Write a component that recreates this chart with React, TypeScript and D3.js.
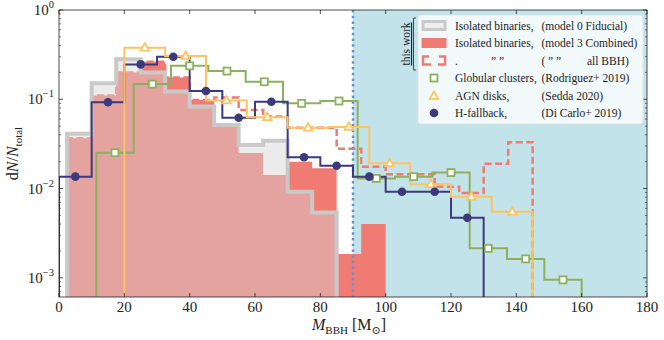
import * as d3 from 'd3';

// isolated binaries, bins of 7.5 Msun starting at 2.5
const isoBinStart = 2.5;
const isoBinWidth = 7.5;
const model0Fiducial = [0.041, 0.151, 0.28, 0.199, 0.122, 0.083, 0.0515, 0.0308, 0.0344, 0.0092, 0.0054];
const model3Combined = [0.0366, 0.11, 0.199, 0.264, 0.175, 0.098, 0.049, 0.025, 0.0142, 0.02, 0.0169, 0.00185, 0.004];
const model3AllBBH = [0.0366, 0.11, 0.199, 0.264, 0.175, 0.098, 0.105, 0.076, 0.064, 0.048, 0.048, 0.028, 0.0176, 0.0145, 0.0145, 0.0105, 0.0089, 0.019, 0.033];

// globular clusters (Rodriguez+ 2019), 14 bins over 0-160, first bin empty
const gcBinCount = 14;
const gcMax = 160;
const globularClusters = [0, 0.0252, 0.148, 0.237, 0.207, 0.157, 0.09, 0.0957, 0.013, 0.0136, 0.0151, 0.00214, 0.00163, 0.00095];

// AGN disks (Sedda 2020), bins of 12.5 from 20
const agnBinStart = 20;
const agnBinWidth = 12.5;
const agnDisks = [0.378, 0.305, 0.097, 0.063, 0.048, 0.049, 0.0192, 0.0112, 0.0081, 0.0055];

// H-fallback (Di Carlo+ 2019), bins of 10 from 0
const hfBinStart = 0;
const hfBinWidth = 10;
const hFallback = [0.0136, 0.0925, 0.246, 0.3, 0.124, 0.062, 0.094, 0.0224, 0.018, 0.0136, 0.0092, 0.0092, 0.0047];

const xTicks = [0, 20, 40, 60, 80, 100, 120, 140, 160, 180];
const yTickExps = [0, -1, -2, -3];
const pairGap = 90; // shaded mass gap starts here

const legendRows = [
  { a: 'Isolated binaries,', b: '(model 0 Fiducial)' },
  { a: 'Isolated binaries,', b: '(model 3 Combined)' },
  { a: '.', b: '(' },
  { a: 'Globular clusters,', b: '(Rodriguez+ 2019)' },
  { a: 'AGN disks,', b: '(Sedda 2020)' },
  { a: 'H-fallback,', b: '(Di Carlo+ 2019)' },
];

const W = 664;
const H = 340;
const L = 59, R = 647, T = 10, B = 297;
const yMin = 6.1e-4;
const FONT = '"Liberation Serif", "DejaVu Serif", serif';

const RED = '#f07b72';
const GRAY = '#c9c9c9';
const NAVY = '#3c3a7c';
const GREEN = '#8db05e';
const ORANGE = '#fcc462';

const edgesFrom = (start: number, width: number, n: number) => d3.range(n + 1).map((i) => start + i * width);

export default function App() {
  const x = d3.scaleLinear().domain([0, 180]).range([L, R]);
  const y = d3.scaleLog().domain([yMin, 1]).range([B, T]);

  const stepPts = (edges: number[], vals: number[]) => {
    const pts: [number, number][] = [[edges[0], yMin]];
    vals.forEach((v, i) => pts.push([edges[i], v > 0 ? v : yMin]));
    pts.push([edges[vals.length], vals[vals.length - 1]]);
    pts.push([edges[vals.length], yMin]);
    return pts;
  };
  const line = d3.line<[number, number]>()
    .x((d) => x(d[0]))
    .y((d) => y(Math.max(d[1], yMin)))
    .curve(d3.curveStepAfter);
  const area = d3.area<[number, number]>()
    .x((d) => x(d[0]))
    .y0(y(yMin))
    .y1((d) => y(Math.max(d[1], yMin)))
    .curve(d3.curveStepAfter);
  const fillPts = (edges: number[], vals: number[]) => {
    const pts: [number, number][] = vals.map((v, i) => [edges[i], v]);
    pts.push([edges[vals.length], vals[vals.length - 1]]);
    return pts;
  };

  const e0 = edgesFrom(isoBinStart, isoBinWidth, model0Fiducial.length);
  const e3 = edgesFrom(isoBinStart, isoBinWidth, model3Combined.length);
  const e3all = edgesFrom(isoBinStart, isoBinWidth, model3AllBBH.length);
  const gcEdges = edgesFrom(0, gcMax / gcBinCount, gcBinCount);
  const gcFirst = globularClusters.findIndex((v) => v > 0);
  const gcVals = globularClusters.slice(gcFirst);
  const gcE = gcEdges.slice(gcFirst);
  const agnE = edgesFrom(agnBinStart, agnBinWidth, agnDisks.length);
  const hfE = edgesFrom(hfBinStart, hfBinWidth, hFallback.length);

  const centers = (edges: number[], vals: number[]) => vals.map((v, i) => [(edges[i] + edges[i + 1]) / 2, v] as [number, number]);

  const minorTicks: number[] = [];
  for (let e = -4; e < 0; e++) for (let k = 2; k <= 9; k++) {
    const v = k * Math.pow(10, e);
    if (v >= yMin && v < 1) minorTicks.push(v);
  }

  const tri = (cx: number, cy: number, s: number) =>
    `M${cx},${cy - s}L${cx + s * 0.95},${cy + s * 0.65}L${cx - s * 0.95},${cy + s * 0.65}Z`;

  const lgX = 418, lgY = 15, lgW = 225, lgH = 109;
  const rowY = (i: number) => 25.5 + i * 17.5;
  const symX = 434;
  const lgFont = 11.5;

  return (
    <svg width={W} height={H} style={{ position: 'absolute', left: 0, top: 0, background: '#fff' }} fontFamily={FONT}>
      <defs>
        <clipPath id="plot"><rect x={L} y={T} width={R - L} height={B - T} /></clipPath>
      </defs>
      <g clipPath="url(#plot)">
        <rect x={x(pairGap)} y={T} width={R - x(pairGap)} height={B - T} fill="#c3e3eb" />
        <path d={area(fillPts(e3, model3Combined)) || ''} fill={RED} />
        <path d={line(stepPts(e3all, model3AllBBH)) || ''} fill="none" stroke={RED} strokeWidth={2.5} strokeDasharray="7 3.5" />
        <path d={area(fillPts(e0, model0Fiducial)) || ''} fill="rgba(212,212,212,0.45)" />
        <path d={line(stepPts(e0, model0Fiducial)) || ''} fill="none" stroke={GRAY} strokeWidth={4} />
        <line x1={x(pairGap)} x2={x(pairGap)} y1={T} y2={B} stroke="#5e93d6" strokeWidth={2.5} strokeDasharray="2.5 3.2" />
        <path d={line(stepPts(gcE, gcVals)) || ''} fill="none" stroke={GREEN} strokeWidth={2} />
        <path d={line(stepPts(hfE, hFallback)) || ''} fill="none" stroke={NAVY} strokeWidth={2} />
        <path d={line(stepPts(agnE, agnDisks)) || ''} fill="none" stroke={ORANGE} strokeWidth={2} />
        {centers(gcE, gcVals).map((d, i) => (
          <rect key={'g' + i} x={x(d[0]) - 3.5} y={y(d[1]) - 3.5} width={7} height={7} fill="#fff" stroke={GREEN} strokeWidth={1.8} />
        ))}
        {centers(agnE, agnDisks).map((d, i) => (
          <path key={'a' + i} d={tri(x(d[0]), y(d[1]), 4.5)} fill="#fff" stroke={ORANGE} strokeWidth={1.8} />
        ))}
        {centers(hfE, hFallback).map((d, i) => (
          <circle key={'h' + i} cx={x(d[0])} cy={y(d[1])} r={4.3} fill={NAVY} />
        ))}
      </g>

      {/* axes frame and ticks */}
      <rect x={L} y={T} width={R - L} height={B - T} fill="none" stroke="#222" strokeWidth={0.8} />
      {xTicks.map((t) => (
        <g key={'xt' + t}>
          <line x1={x(t)} x2={x(t)} y1={B} y2={B - 4} stroke="#222" strokeWidth={0.8} />
          <line x1={x(t)} x2={x(t)} y1={T} y2={T + 4} stroke="#222" strokeWidth={0.8} />
          <text x={x(t)} y={312} textAnchor="middle" fontSize={15} fill="#222">{t}</text>
        </g>
      ))}
      {yTickExps.map((e) => {
        const yy = y(Math.pow(10, e));
        return (
          <g key={'yt' + e}>
            <line x1={L} x2={L + 4} y1={yy} y2={yy} stroke="#222" strokeWidth={0.8} />
            <line x1={R} x2={R - 4} y1={yy} y2={yy} stroke="#222" strokeWidth={0.8} />
            <text x={54} y={yy + 5} textAnchor="end" fontSize={15} fill="#222">
              10<tspan dy={-7} fontSize={10.5}>{e === 0 ? '0' : '\u2212' + -e}</tspan>
            </text>
          </g>
        );
      })}
      {minorTicks.map((v, i) => (
        <g key={'mt' + i}>
          <line x1={L} x2={L + 2} y1={y(v)} y2={y(v)} stroke="#222" strokeWidth={0.6} />
          <line x1={R} x2={R - 2} y1={y(v)} y2={y(v)} stroke="#222" strokeWidth={0.6} />
        </g>
      ))}

      {/* axis labels */}
      <text transform={`translate(18,${(T + B) / 2}) rotate(-90)`} textAnchor="middle" fontSize={16} fill="#222">
        d<tspan fontStyle="italic">N</tspan>/<tspan fontStyle="italic">N</tspan>
        <tspan dy={4} fontSize={11}>total</tspan>
      </text>
      <text x={312} y={330} fontSize={16} fill="#222">
        <tspan fontStyle="italic">M</tspan>
        <tspan dy={4} fontSize={11}>BBH</tspan>
        <tspan dy={-4}> [M</tspan>
        <tspan dy={4} fontSize={11}>{'\u2299'}</tspan>
        <tspan dy={-4}>]</tspan>
      </text>

      {/* legend */}
      <rect x={lgX} y={lgY} width={lgW} height={lgH} rx={3} fill="rgba(255,255,255,0.78)" stroke="#e2e2e2" strokeWidth={0.8} />
      <rect x={423} y={rowY(0) - 4} width={22} height={8} fill="#eee" stroke={GRAY} strokeWidth={3} />
      <rect x={421.5} y={rowY(1) - 5} width={25} height={10} fill={RED} />
      <path d={`M429,${rowY(2) - 4}H423V${rowY(2) + 4}H431M438,${rowY(2) + 4}H445V${rowY(2) - 4}H439`} fill="none" stroke={RED} strokeWidth={2.5} />
      <rect x={symX - 3.5} y={rowY(3) - 3.5} width={7} height={7} fill="#fff" stroke={GREEN} strokeWidth={1.8} />
      <path d={tri(symX, rowY(4) + 0.5, 4.5)} fill="#fff" stroke={ORANGE} strokeWidth={1.8} />
      <circle cx={symX} cy={rowY(5)} r={4.3} fill={NAVY} />
      {legendRows.map((r, i) => (
        <g key={'lg' + i} fontSize={lgFont} fill="#222">
          <text x={455} y={rowY(i) + 4}>{r.a}</text>
          <text x={541.5} y={rowY(i) + 4}>{r.b}</text>
        </g>
      ))}
      <text x={491} y={rowY(2) + 4} fontSize={lgFont} fill="#222">{'\u201D \u201D'}</text>
      <text x={548} y={rowY(2) + 4} fontSize={lgFont} fill="#222">{'\u201D \u201D'}</text>
      <text x={587} y={rowY(2) + 4} fontSize={lgFont} fill="#222">all BBH)</text>
      <text transform={`translate(410,44) rotate(-90)`} textAnchor="middle" fontSize={lgFont} fill="#222" textDecoration="underline">this work</text>
      <path d="M416,18 L413.5,18 L413.5,70 L416,70" fill="none" stroke="#222" strokeWidth={0.8} />
    </svg>
  );
}
